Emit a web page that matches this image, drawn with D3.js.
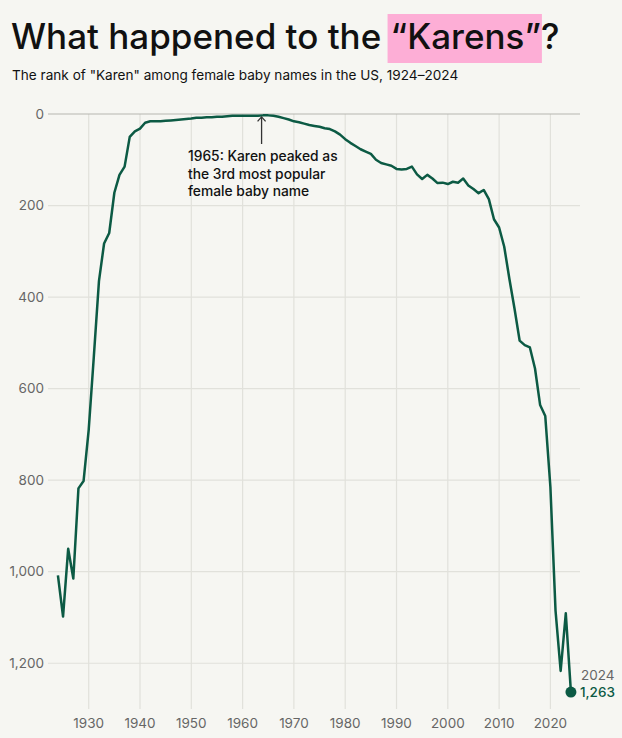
<!DOCTYPE html>
<html>
<head>
<meta charset="utf-8">
<script src="https://cdn.jsdelivr.net/npm/d3@7"></script>
<style>
  body { margin: 0; background: #f6f6f2; }
  svg { display: block; font-family: Inter, "Noto Sans", sans-serif; }
  text { white-space: pre; }
</style>
</head>
<body>
<svg id="chart" width="622" height="738"></svg>
<script>
// rank of "Karen", 1924-2024
var years = d3.range(1924, 2025);
var ranks = [
  1008, 1098, 950, 1015, 818, 802, 690, 530, 365, 283,
  260, 172, 133, 115, 50, 38, 32, 19, 16, 16,
  16, 15, 14, 13, 12, 11, 10, 8, 8, 7,
  7, 6, 6, 5, 4, 4, 4, 4, 4, 4,
  3, 3, 4, 6, 9, 12, 16, 18, 21, 24,
  26, 28, 31, 33, 38, 45, 55, 63, 70, 77,
  82, 87, 100, 107, 110, 113, 120, 121, 120, 115,
  132, 142, 133, 141, 151, 150, 153, 148, 150, 141,
  156, 164, 173, 166, 186, 230, 248, 290, 360, 425,
  495, 505, 510, 556, 636, 660, 815, 1085, 1217, 1091,
  1263
];
var xTicks = [1930, 1940, 1950, 1960, 1970, 1980, 1990, 2000, 2010, 2020];
var yTicks = [0, 200, 400, 600, 800, 1000, 1200];
var titleParts = ['What happened to the ', '\u201cKarens\u201d', '?'];
var subtitle = 'The rank of "Karen" among female baby names in the US, 1924\u20132024';
var noteLines = ['1965: Karen peaked as', 'the 3rd most popular', 'female baby name'];

var data = years.map(function(y, i) { return {year: y, rank: ranks[i]}; });

var svg = d3.select('#chart');
var green = '#0c5a44';

// title with pink highlight on "Karens"
var title = svg.append('g').attr('transform', 'translate(11,49)');
var t0 = title.append('text').attr('font-size', 35).attr('font-weight', 500).attr('fill', '#111').text(titleParts[0]);
var w0 = t0.node().getComputedTextLength();
var hl = title.append('rect').attr('fill', '#fdaed6');
var t1 = title.append('text').attr('x', w0).attr('font-size', 35).attr('font-weight', 500).attr('fill', '#111').text(titleParts[1]);
var w1 = t1.node().getComputedTextLength();
hl.attr('x', w0 - 3).attr('y', -35).attr('width', w1 + 4).attr('height', 49);
title.append('text').attr('x', w0 + w1).attr('font-size', 35).attr('font-weight', 500).attr('fill', '#111').text(titleParts[2]);

svg.append('text')
  .attr('x', 12).attr('y', 80)
  .attr('font-size', 13.6).attr('fill', '#111')
  .text(subtitle);

var x = d3.scaleLinear().domain([1930, 2020]).range([88.7, 550.4]);
var y = d3.scaleLinear().domain([0, 1300]).range([114, 709]);
var left = 48, right = 580;

// vertical grid
svg.append('g').selectAll('line')
  .data(xTicks).enter().append('line')
  .attr('x1', function(d) { return x(d); })
  .attr('x2', function(d) { return x(d); })
  .attr('y1', y(0)).attr('y2', 709)
  .attr('stroke', '#e1e1db').attr('stroke-width', 1.2);

// horizontal grid
svg.append('g').selectAll('line')
  .data(yTicks).enter().append('line')
  .attr('x1', left).attr('x2', right)
  .attr('y1', function(d) { return y(d); })
  .attr('y2', function(d) { return y(d); })
  .attr('stroke', function(d) { return d === 0 ? '#b5b5b0' : '#e1e1db'; })
  .attr('stroke-width', 1.2);

// y labels
svg.append('g').selectAll('text')
  .data(yTicks).enter().append('text')
  .attr('x', 44)
  .attr('y', function(d) { return y(d); })
  .attr('dy', '0.35em')
  .attr('text-anchor', 'end')
  .attr('font-size', 13.5).attr('fill', '#666')
  .text(function(d) { return d3.format(',')(d); });

// x labels
svg.append('g').selectAll('text')
  .data(xTicks).enter().append('text')
  .attr('x', function(d) { return x(d); })
  .attr('y', 728)
  .attr('text-anchor', 'middle')
  .attr('font-size', 13.5).attr('fill', '#666')
  .text(function(d) { return d; });

var line = d3.line()
  .x(function(d) { return x(d.year); })
  .y(function(d) { return y(d.rank); });

svg.append('path')
  .datum(data)
  .attr('d', line)
  .attr('fill', 'none')
  .attr('stroke', green)
  .attr('stroke-width', 2.5)
  .attr('stroke-linejoin', 'round');

// end point
var last = data[data.length - 1];
svg.append('circle')
  .attr('cx', x(last.year)).attr('cy', y(last.rank))
  .attr('r', 5.5).attr('fill', green);
svg.append('text')
  .attr('x', x(last.year) + 10).attr('y', y(last.rank) - 12)
  .attr('font-size', 13.5).attr('fill', '#666')
  .text(last.year);
svg.append('text')
  .attr('x', x(last.year) + 9).attr('y', y(last.rank) + 5)
  .attr('font-size', 13.5).attr('font-weight', 500).attr('fill', green)
  .text(d3.format(',')(last.rank));

// peak annotation
var ax = x(1963.7);
svg.append('line')
  .attr('x1', ax).attr('x2', ax)
  .attr('y1', y(3) + 2).attr('y2', 144)
  .attr('stroke', '#333').attr('stroke-width', 1.3);
svg.append('path')
  .attr('d', 'M' + (ax - 4) + ',' + (y(3) + 6) + 'L' + ax + ',' + (y(3) + 1.5) + 'L' + (ax + 4) + ',' + (y(3) + 6))
  .attr('fill', 'none').attr('stroke', '#333').attr('stroke-width', 1.3);
svg.append('g').selectAll('text')
  .data(noteLines).enter().append('text')
  .attr('x', 188)
  .attr('y', function(d, i) { return 161 + i * 17.5; })
  .attr('font-size', 13.8).attr('font-weight', 500).attr('fill', '#111')
  .text(function(d) { return d; });
</script>
</body>
</html>
